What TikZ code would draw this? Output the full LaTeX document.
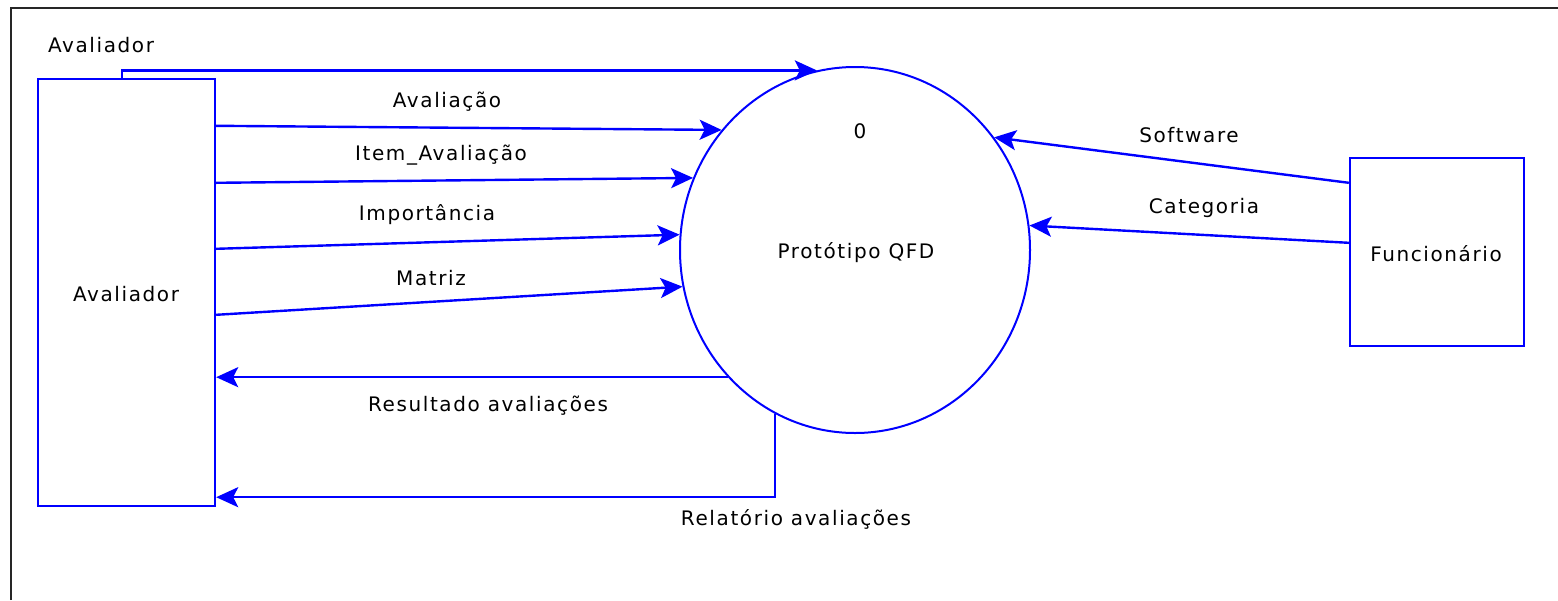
\documentclass[tikz,border=0pt]{standalone}
\usepackage{fontspec}
\setmainfont{DejaVu Sans}[LetterSpace=8.0]
\usetikzlibrary{arrows.meta,calc,shapes.geometric}
\definecolor{flowblue}{RGB}{0,0,255}
\begin{document}
\begin{tikzpicture}[x=1pt,y=-1pt,
  font=\fontsize{20}{24}\selectfont,
  entity/.style={draw=flowblue,line width=2.4pt,rectangle,inner sep=0pt},
  process/.style={draw=flowblue,line width=2pt,ellipse,inner sep=0pt,
                  minimum width=350pt,minimum height=366pt},
  flow/.style={draw=flowblue,line width=2.4pt,
               -{Stealth[length=22pt,width=20pt,inset=5pt]}},
  lbl/.style={inner sep=0pt,text=black},
  frame/.style={draw=black!85,line width=2.6pt}]
\useasboundingbox (0,0) rectangle (1558,600);

% window frame (top and left edges)
\draw[frame] (11,600) -- (11,8) -- (1558,8);

% external entities and the process
\node[entity,minimum width=177pt,minimum height=427pt] (av) at (126.5,292.5) {};
\node[lbl] (avtxt) at (126,294) {Avaliador};
\node[lbl] (avtop) at (101,45) {Avaliador};
\node[entity,minimum width=174pt,minimum height=188pt] (fu) at (1437,252) {};
\node[lbl] (futxt) at (1436,254) {Funcionário};
\node[process] (qfd) at (855,250) {};
\node[lbl] (num) at (860,131) {0};
\node[lbl] (qfdtxt) at (856,253) {Protótipo QFD};

% flows from Avaliador into the process
\draw[flow] ($(av.north)+(-4.5,0)$) |- (qfd.102.5);
\draw[flow] ($(av.north east)+(0,48)$) -- (qfd.138.6);
\draw[flow] ($(av.north east)+(0,105)$) -- (qfd.156.9);
\draw[flow] ($(av.north east)+(0,171)$) -- (qfd.175.5);
\draw[flow] ($(av.north east)+(0,237)$) -- (qfd.192.3);

% flows back to Avaliador
\draw[flow] (qfd.225) -- (qfd.225 -| av.east);
\draw[flow] (qfd.244.1) |- ($(av.south east)+(0,-10)$);

% flows from Funcionario
\draw[flow] ($(fu.north west)+(0,26)$) -- (qfd.39.07);
\draw[flow] ($(fu.north west)+(0,86)$) -- (qfd.8.45);

% flow labels
\node[lbl] (l1) at (447,102) {Avaliação};
\node[lbl] (l2) at (441,155) {Item\_Avaliação};
\node[lbl] (l3) at (427,215) {Importância};
\node[lbl] (l4) at (431,278) {Matriz};
\node[lbl] (l5) at (488,406) {Resultado avaliações};
\node[lbl] (l6) at (796,519) {Relatório avaliações};
\node[lbl] (l7) at (1189,135) {Software};
\node[lbl] (l8) at (1204,208) {Categoria};
\end{tikzpicture}
\end{document}
